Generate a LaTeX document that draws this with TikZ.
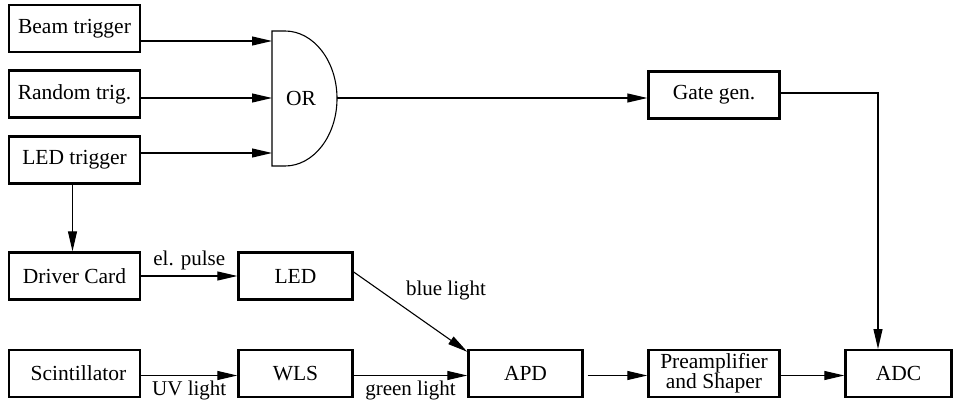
\documentclass[tikz,border=0pt]{standalone}
\usepackage{fontspec}
\setmainfont{Liberation Serif}
\usetikzlibrary{arrows.meta,calc}
\begin{document}
\begin{tikzpicture}[x=1pt,y=-1pt,
  blk/.style={draw,line width=2.4pt,minimum height=47pt,inner sep=0pt,align=center,
     font=\fontsize{21.5}{20}\selectfont},
  conn/.style={line width=1.1pt,-{Triangle[length=20pt,width=9pt]}},
  wire/.style={line width=1.1pt},
  lbl/.style={font=\fontsize{21}{22}\selectfont,inner sep=0pt}]
\useasboundingbox (0,0) rectangle (956,401);
% boxes
\node[blk,minimum width=131pt] (beam) at (74.5,28.5) {Beam trigger};
\node[blk,minimum width=131pt] (random) at (74.5,94) {Random trig.};
\node[blk,minimum width=131pt] (ledtrig) at (74.5,160) {LED trigger};
\node[blk,minimum width=131pt] (driver) at (74.5,276) {Driver Card};
\node[blk,minimum width=114pt] (led) at (295.5,276) {LED};
\node[blk,minimum width=131pt] (scint) at (74.5,373.5) {\hspace*{8pt}Scintillator};
\node[blk,minimum width=114pt] (wls) at (295.5,373.5) {WLS};
\node[blk,minimum width=114pt] (apd) at (525.5,373.5) {APD};
\node[blk,minimum width=131pt] (preamp) at (714,373.5) {Preamplifier\\and Shaper};
\node[blk,minimum width=106pt] (adc) at (898.5,373.5) {ADC};
\node[blk,minimum width=131pt] (gate) at (714,95) {Gate gen.};
% OR gate
\coordinate (or1) at (272,41);
\coordinate (or2) at (272,98);
\coordinate (or3) at (272,153);
\coordinate (orout) at (337,98);
\draw[wire] (272,31) -- (285,31) arc[start angle=90,end angle=-90,x radius=52pt,y radius=67.5pt] -- (272,166) -- cycle;
\node[font=\fontsize{21.5}{22}\selectfont] (or) at (301,98) {OR};
% connectors
\draw[conn] (beam.east |- or1) -- (or1);
\draw[conn] (random.east |- or2) -- (or2);
\draw[conn] (ledtrig.east |- or3) -- (or3);
\draw[conn] (orout) -- (gate.west |- orout);
\coordinate (adcin) at (878,349);
\draw[conn] ([yshift=2pt]gate.east) -| (adcin);
\draw[conn] ([xshift=-2pt]ledtrig.south) -- ([xshift=-2pt]driver.north);
\draw[conn] (driver.east) -- node[lbl,above=5pt] (elp) {el. pulse} (led.west);
\draw[conn] ([yshift=-2pt]scint.east) -- node[lbl,below=5pt] (uvl) {UV light} ([yshift=-2pt]wls.west);
\draw[conn] ([yshift=-2pt]wls.east) -- node[lbl,below=5pt] (grl) {green light} ([yshift=-2pt]apd.west);
\draw[conn] ([yshift=4pt]led.east) -- ([yshift=-3pt]apd.north west);
\node[lbl] (bll) at (446,290) {blue light};
\draw[conn] ([xshift=4pt,yshift=-2pt]apd.east) -- ([yshift=-2pt]preamp.west);
\draw[conn] ([yshift=-2pt]preamp.east) -- ([yshift=-2pt]adc.west);
\end{tikzpicture}
\end{document}
